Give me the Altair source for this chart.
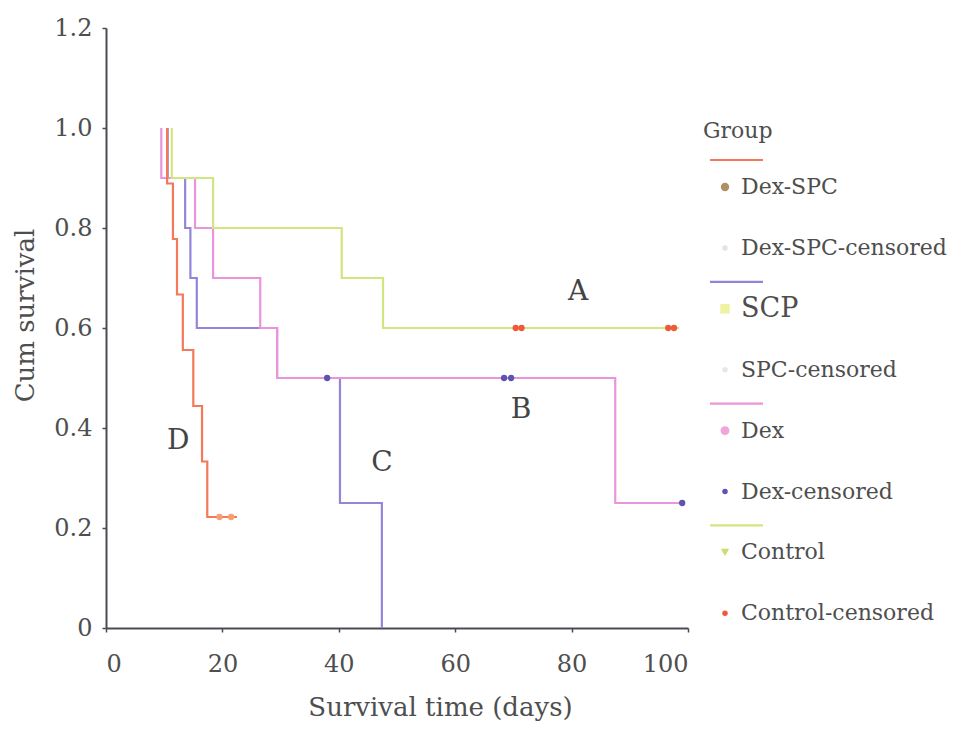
import altair as alt
import pandas as pd

# ---- Kaplan-Meier curves (days, cumulative survival) ----
dexspc_t = [10.5, 10.5, 11.5, 12.2, 13.2, 15.0, 16.5, 17.4, 22.5]
dexspc_s = [1.0, 0.889, 0.778, 0.667, 0.556, 0.444, 0.333, 0.222, 0.222]
scp_t = [10.6, 10.6, 13.6, 14.5, 15.6, 29.4, 40.2, 47.4]
scp_s = [1.0, 0.9, 0.8, 0.7, 0.6, 0.5, 0.25, 0.0]
dex_t = [9.5, 9.5, 15.3, 18.4, 26.5, 29.4, 87.5, 99.0]
dex_s = [1.0, 0.9, 0.8, 0.7, 0.6, 0.5, 0.25, 0.25]
ctrl_t = [11.3, 11.3, 18.4, 40.5, 47.6, 98.5]
ctrl_s = [1.0, 0.9, 0.8, 0.7, 0.6, 0.6]

# ---- censored observations ----
dexspc_cens_t = [19.5, 21.5]
dexspc_cens_s = [0.222, 0.222]
dex_cens_t = [38.0, 68.4, 69.6, 99.0]
dex_cens_s = [0.5, 0.5, 0.5, 0.25]
ctrl_cens_t = [70.4, 71.4, 96.6, 97.6]
ctrl_cens_s = [0.6, 0.6, 0.6, 0.6]

# ---- curve letters ----
letters = ["A", "B", "C", "D"]
letter_t = [81.1, 71.3, 47.4, 12.4]
letter_s = [0.672, 0.436, 0.33, 0.374]

# ---- legend ----
legend_labels = ["Dex-SPC", "Dex-SPC-censored", "SCP", "SPC-censored",
                 "Dex", "Dex-censored", "Control", "Control-censored"]
x_ticks = [0, 20, 40, 60, 80, 100]
y_ticks = [0, 0.2, 0.4, 0.6, 0.8, 1.0, 1.2]

line_groups = ["SCP", "Dex", "Control", "Dex-SPC"]
line_colors = ["#9585d8", "#eb94dc", "#d0e67e", "#f4785a"]
cens_groups = ["Dex-SPC-censored", "Dex-censored", "Control-censored"]
cens_colors = ["#f4a070", "#5b55b0", "#f05a3c"]

FONT = "DejaVu Serif"
TXT = "#4e4e4e"

rows = []
for g, c, ts, ss in [("SCP", line_colors[0], scp_t, scp_s),
                     ("Dex", line_colors[1], dex_t, dex_s),
                     ("Control", line_colors[2], ctrl_t, ctrl_s),
                     ("Dex-SPC", line_colors[3], dexspc_t, dexspc_s)]:
    for i, (t, s) in enumerate(zip(ts, ss)):
        rows.append({"group": g, "col": c, "t": t, "s": s, "i": i})
curves = pd.DataFrame(rows)

crow = []
for g, c, ts, ss in [("Dex-SPC-censored", cens_colors[0], dexspc_cens_t, dexspc_cens_s),
                     ("Dex-censored", cens_colors[1], dex_cens_t, dex_cens_s),
                     ("Control-censored", cens_colors[2], ctrl_cens_t, ctrl_cens_s)]:
    for t, s in zip(ts, ss):
        crow.append({"group": g, "col": c, "t": t, "s": s})
cens = pd.DataFrame(crow)

labels_df = pd.DataFrame({"txt": letters, "t": letter_t, "s": letter_s})

xs = alt.Scale(domain=[0, 100], nice=False, zero=True)
ys = alt.Scale(domain=[0, 1.2], nice=False)

xaxis = alt.Axis(values=x_ticks, title="Survival time (days)", grid=False,
                 tickSize=4, labelPadding=20, labelFontSize=24,
                 titleX=334, titleY=87, titleAlign="center",
                 titleBaseline="alphabetic", titleFontSize=26)
yaxis = alt.Axis(values=y_ticks, title="Cum survival", grid=False,
                 tickSize=4, labelPadding=10, labelFontSize=24,
                 labelExpr="datum.value == 0 ? '0' : format(datum.value, '.1f')",
                 titleX=-81, titleY=287, titleAngle=270, titleAlign="center",
                 titleBaseline="middle", titleFontSize=26)

lines = alt.Chart(curves).mark_line(interpolate="step-after", strokeWidth=2.2).encode(
    x=alt.X("t:Q", scale=xs, axis=xaxis),
    y=alt.Y("s:Q", scale=ys, axis=yaxis),
    color=alt.Color("col:N", scale=None, legend=None),
    detail="group:N",
    order="i:Q",
)

cens_pts = alt.Chart(cens).mark_point(filled=True, shape="circle", size=40, opacity=1).encode(
    x=alt.X("t:Q", scale=xs),
    y=alt.Y("s:Q", scale=ys),
    color=alt.Color("col:N", scale=None, legend=None),
)

letter_marks = alt.Chart(labels_df).mark_text(font=FONT, fontSize=28, color="#444",
                                              align="center", baseline="middle").encode(
    x=alt.X("t:Q", scale=xs), y=alt.Y("s:Q", scale=ys), text="txt:N")

# ---- custom legend (pixel layout inside the chart) ----
LX_TEXT, LX_SYM, LX_L0, LX_L1 = 635, 619, 604, 657
Y0, STEP = 159, 60.9
leg_rows = []
sym_colors = ["#b09060", "#e4e4e4", "#f1f1a4", "#e8e8e8",
              "#f0a6d8", "#5b55b0", "#c8e070", "#f05a3c"]
sym_shapes = ["circle", "circle", "square", "circle",
              "circle", "circle", "triangle-down", "circle"]
sym_sizes = [70, 30, 90, 30, 80, 30, 70, 30]
for k, lab in enumerate(legend_labels):
    leg_rows.append({"label": lab, "px": LX_TEXT, "py": Y0 + k * STEP,
                     "sx": LX_SYM, "fs": 27 if lab == "SCP" else 22,
                     "col": sym_colors[k], "shape": sym_shapes[k], "size": sym_sizes[k]})
leg = pd.DataFrame(leg_rows)

leg_text = alt.Chart(leg).mark_text(font=FONT, color=TXT, align="left", baseline="middle").encode(
    x=alt.X("px:Q", scale=None), y=alt.Y("py:Q", scale=None), text="label:N",
    size=alt.Size("fs:Q", scale=None, legend=None))

leg_sym = alt.Chart(leg).mark_point(filled=True, opacity=1).encode(
    x=alt.X("sx:Q", scale=None), y=alt.Y("py:Q", scale=None),
    color=alt.Color("col:N", scale=None, legend=None),
    shape=alt.Shape("shape:N", scale=None, legend=None),
    size=alt.Size("size:Q", scale=None, legend=None))

leg_lines_df = pd.DataFrame({
    "x0": [LX_L0] * 4, "x1": [LX_L1] * 4,
    "y": [Y0 + 2 * k * STEP - 27 for k in range(4)],
    "col": ["#f4785a", "#9585d8", "#eb94dc", "#d0e67e"],
})
leg_lines = alt.Chart(leg_lines_df).mark_rule(strokeWidth=2.2).encode(
    x=alt.X("x0:Q", scale=None), x2="x1:Q", y=alt.Y("y:Q", scale=None),
    color=alt.Color("col:N", scale=None, legend=None))

leg_title = alt.Chart(pd.DataFrame({"t": ["Group"]})).mark_text(
    font=FONT, fontSize=22, color=TXT, align="left", baseline="middle").encode(
    x=alt.value(597), y=alt.value(103), text="t:N")

chart = alt.layer(lines, cens_pts, letter_marks, leg_lines, leg_sym, leg_text, leg_title).properties(
    width=582, height=600,
    autosize=alt.AutoSizeParams(type="none"),
    padding={"left": 98, "top": 20, "right": 265, "bottom": 94},
).configure_view(stroke=None).configure_axis(
    domainColor="#4a4a55", domainWidth=2, tickColor="#4a4a55", tickWidth=1.5,
    labelFont=FONT, titleFont=FONT, labelColor=TXT, titleColor=TXT,
    titleFontWeight="normal",
)

chart.save("out.html", embed_options={"renderer": "svg", "actions": False})
